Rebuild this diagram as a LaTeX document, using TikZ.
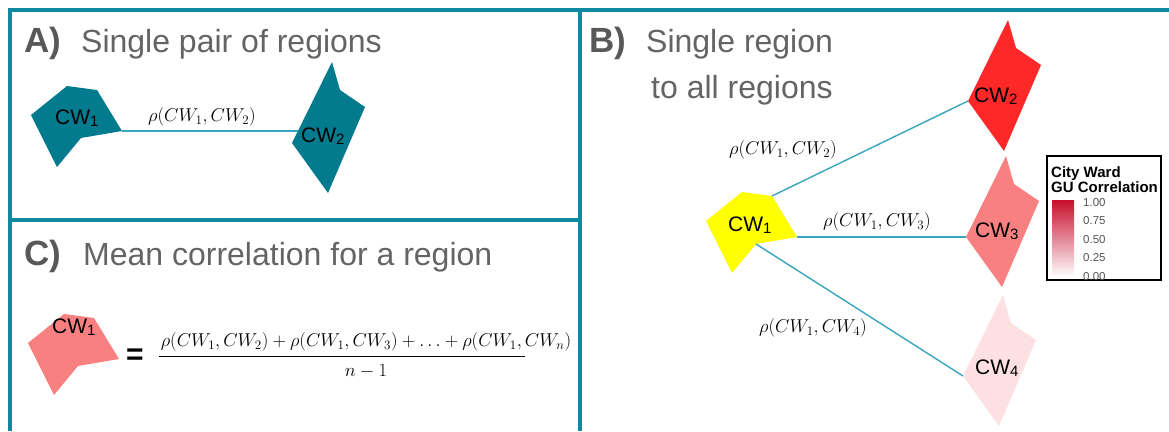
\RequirePackage{fix-cm}
\documentclass[tikz,border=0pt]{standalone}
\usepackage{fontspec}
\setmainfont{Liberation Sans}
\definecolor{framecol}{RGB}{16,137,160}
\definecolor{tealshape}{RGB}{3,123,143}
\definecolor{linkcol}{RGB}{55,165,190}
\definecolor{headcol}{RGB}{88,88,88}
\definecolor{headtxt}{RGB}{100,100,100}
\definecolor{redA}{RGB}{255,40,40}
\definecolor{salmon}{RGB}{248,128,128}
\definecolor{palepink}{RGB}{253,224,226}
\definecolor{wardyellow}{RGB}{255,255,0}
\definecolor{legred}{RGB}{200,14,44}
\definecolor{ticktxt}{RGB}{85,85,85}
\newcommand{\cwlab}[1]{CW\raisebox{-0.25ex}{\fontsize{15}{15}\selectfont #1}}
\begin{document}
\begin{tikzpicture}[x=1pt,y=-1pt,
  frame/.style={draw=framecol,line width=4pt},
  link/.style={draw=linkcol,line width=1.4pt},
  headbold/.style={anchor=base west,inner sep=0pt,text=headcol,font=\fontsize{35}{40}\selectfont\bfseries},
  headreg/.style={anchor=base west,inner sep=0pt,text=headtxt,font=\fontsize{32}{38}\selectfont},
  cwlabel/.style={anchor=base west,inner sep=0pt,font=\fontsize{21}{24}\selectfont},
  rholab/.style={inner sep=0pt,font=\fontsize{18.6}{23}\selectfont},
  ticklab/.style={anchor=west,inner sep=0pt,text=ticktxt,font=\fontsize{11.5}{13}\selectfont}]
\useasboundingbox (0,0) rectangle (1169,431);

% frame
\draw[frame] (1169,10) -- (10,10) -- (10,431);
\draw[frame] (580,10) -- (580,431);
\draw[frame] (10,220) -- (580,220);

% headings
\node[headbold] (hA) at (24,52) {A)};
\node[headreg] (hAt) at (81,52) {Single pair of regions};
\node[headbold] (hB) at (589,52) {B)};
\node[headreg] (hBt) at (646,52) {Single region};
\node[headreg] (hBt2) at (651,98) {to all regions};
\node[headbold] (hC) at (24,265) {C)};
\node[headreg] (hCt) at (83,265) {Mean correlation for a region};

% ---------- Panel A ----------
\fill[tealshape] (31,115) -- (67,86) -- (97,90) -- (122,131) -- (81,138) -- (57,167) -- cycle;
\coordinate (a1e) at (122,131);
\fill[tealshape] (332,62) -- (340,90) -- (365,107) -- (328,193) -- (292,143) -- cycle;
\coordinate (a2w) at (298,131);
\draw[link] (a1e) -- (a2w);
\node[cwlabel] (la1) at (55,124) {\cwlab{1}};
\node[cwlabel] (la2) at (301,142) {\cwlab{2}};
\node[rholab] (ra) at (202,117) {$\rho(CW_1,CW_2)$};

% ---------- Panel C ----------
\fill[salmon] (28,343) -- (64,314) -- (94,318) -- (119,359) -- (78,366) -- (54,395) -- cycle;
\node[cwlabel] (lc1) at (52,333) {\cwlab{1}};
\node[inner sep=0pt,font=\fontsize{30}{30}\selectfont\bfseries] (eq) at (135,357) {=};
\node[rholab] (num) at (366,342) {$\rho(CW_1,CW_2)+\rho(CW_1,CW_3)+\ldots+\rho(CW_1,CW_n)$};
\coordinate (fl) at (159,356);
\coordinate (fr) at (525,356);
\draw[line width=0.9pt] (fl) -- (fr);
\node[rholab] (den) at (366,371) {$n-1$};

% ---------- Panel B ----------
\begin{scope}[shift={(675,106)}]
\fill[wardyellow] (31,115) -- (67,86) -- (97,90) -- (122,131) -- (81,138) -- (57,167) -- cycle;
\coordinate (b1n) at (97,90);
\coordinate (b1e) at (122,131);
\coordinate (b1s) at (81,138);
\end{scope}
\begin{scope}[shift={(676,-42)}]
\fill[redA] (332,62) -- (340,90) -- (365,107) -- (328,193) -- (292,143) -- cycle;
\coordinate (b2w) at (292,143);
\end{scope}
\begin{scope}[shift={(674,94)}]
\fill[salmon] (332,62) -- (340,90) -- (365,107) -- (328,193) -- (292,143) -- cycle;
\coordinate (b3w) at (292,143);
\end{scope}
\begin{scope}[shift={(671,233)}]
\fill[palepink] (332,62) -- (340,90) -- (365,107) -- (328,193) -- (292,143) -- cycle;
\coordinate (b4w) at (292,143);
\end{scope}
\draw[link] (b1n) -- (b2w);
\draw[link] (b1e) -- (b3w);
\draw[link] (b1s) -- (b4w);
\node[cwlabel] (lb1) at (728,231) {\cwlab{1}};
\node[cwlabel] (lb2) at (974,102) {\cwlab{2}};
\node[cwlabel] (lb3) at (975,237) {\cwlab{3}};
\node[cwlabel] (lb4) at (975,374) {\cwlab{4}};
\node[rholab] (rb2) at (783,150) {$\rho(CW_1,CW_2)$};
\node[rholab] (rb3) at (877,222) {$\rho(CW_1,CW_3)$};
\node[rholab] (rb4) at (813,328) {$\rho(CW_1,CW_4)$};

% legend
\draw[black,line width=1.2pt] (1047,156) rectangle (1161,280);
\node[anchor=base west,inner sep=0pt,font=\fontsize{15}{16}\selectfont\bfseries] (lt1) at (1051,177) {City Ward};
\node[anchor=base west,inner sep=0pt,font=\fontsize{15}{16}\selectfont\bfseries] (lt2) at (1051,192) {GU Correlation};
\shade[top color=legred,bottom color=white] (1052,200) rectangle (1074,277);
\node[ticklab] (t100) at (1083,203) {1.00};
\node[ticklab] (t075) at (1083,221) {0.75};
\node[ticklab] (t050) at (1083,240) {0.50};
\node[ticklab] (t025) at (1083,258) {0.25};
\node[ticklab] (t000) at (1083,277) {0.00};
\end{tikzpicture}
\end{document}
